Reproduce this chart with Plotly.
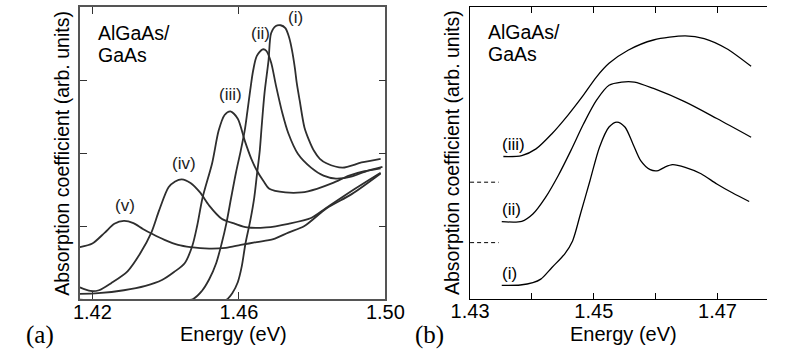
import plotly.graph_objects as go

W, H = 786, 357

# ---------------- Panel (a) data: energy (eV), absorption (arb. units) ----------------
a_i_E = [1.4166, 1.4390, 1.4545, 1.4566, 1.4582, 1.4597, 1.4608, 1.4618, 1.4631, 1.4642, 1.4649,
         1.4657, 1.4662, 1.4670, 1.4681, 1.4688, 1.4701, 1.4714, 1.4727, 1.4738, 1.4745, 1.4753,
         1.4758, 1.4766, 1.4779, 1.4792, 1.4805, 1.4821, 1.4839, 1.4883, 1.4935, 1.4987]
a_i_A = [-0.04, -0.04, -0.04, -0.01, 0.08, 0.23, 0.45, 0.76, 1.07, 1.39, 1.69,
         2.03, 2.35, 2.82, 3.27, 3.64, 3.74, 3.75, 3.71, 3.57, 3.41, 3.16,
         2.96, 2.72, 2.35, 2.17, 2.03, 1.92, 1.86, 1.80, 1.87, 1.92]

a_ii_E = [1.4166, 1.4260, 1.4390, 1.4475, 1.4499, 1.4519, 1.4538, 1.4553, 1.4566, 1.4579, 1.4592,
          1.4605, 1.4616, 1.4623, 1.4631, 1.4639, 1.4649, 1.4665, 1.4675, 1.4688, 1.4701, 1.4719,
          1.4735, 1.4761, 1.4797, 1.4831, 1.4865, 1.4909, 1.4953, 1.4992]
a_ii_A = [-0.01, -0.03, -0.04, 0.00, 0.11, 0.27, 0.49, 0.76, 1.04, 1.39, 1.73,
          2.03, 2.31, 2.56, 2.86, 3.13, 3.33, 3.42, 3.40, 3.24, 2.93, 2.54,
          2.27, 1.99, 1.80, 1.69, 1.65, 1.68, 1.76, 1.81]

a_iii_E = [1.4166, 1.4216, 1.4286, 1.4345, 1.4390, 1.4423, 1.4452, 1.4473, 1.4486, 1.4501, 1.4527,
           1.4545, 1.4561, 1.4577, 1.4597, 1.4616, 1.4634, 1.4649, 1.4668, 1.4683, 1.4727, 1.4771,
           1.4813, 1.4857, 1.4901, 1.4943, 1.4987]
a_iii_A = [0.07, 0.08, 0.12, 0.18, 0.26, 0.37, 0.49, 0.73, 1.00, 1.39, 1.86,
           2.31, 2.52, 2.57, 2.47, 2.17, 1.92, 1.76, 1.61, 1.51, 1.46, 1.46,
           1.51, 1.59, 1.69, 1.75, 1.79]

a_iv_E = [1.4166, 1.4195, 1.4218, 1.4252, 1.4296, 1.4330, 1.4361, 1.4382, 1.4408, 1.4426, 1.4444,
          1.4468, 1.4494, 1.4519, 1.4553, 1.4590, 1.4623, 1.4675, 1.4735, 1.4797, 1.4839, 1.4917,
          1.4987]
a_iv_A = [0.16, 0.11, 0.12, 0.22, 0.38, 0.62, 0.91, 1.21, 1.53, 1.61, 1.64,
          1.59, 1.46, 1.28, 1.10, 1.03, 0.98, 0.98, 1.03, 1.11, 1.25, 1.51,
          1.73]

a_v_E = [1.4166, 1.4200, 1.4234, 1.4260, 1.4286, 1.4312, 1.4338, 1.4364, 1.4397, 1.4434, 1.4468,
         1.4519, 1.4564, 1.4605, 1.4649, 1.4694, 1.4735, 1.4779, 1.4839, 1.4909, 1.4987]
a_v_A = [0.71, 0.76, 0.91, 1.03, 1.07, 1.04, 0.96, 0.89, 0.81, 0.74, 0.71,
         0.69, 0.70, 0.74, 0.78, 0.82, 0.91, 1.00, 1.24, 1.44, 1.72]

a_labels = ["(i)", "(ii)", "(iii)", "(iv)", "(v)"]
a_label_E = [1.4755, 1.4658, 1.4577, 1.4449, 1.4288]
a_label_A = [3.85, 3.64, 2.80, 1.86, 1.28]
a_xticks = [1.42, 1.46, 1.50]
a_xticktext = ["1.42", "1.46", "1.50"]
a_yticks = [1, 2, 3]

# ---------------- Panel (b) data ----------------
b_i_E = [1.43512, 1.43811, 1.44015, 1.44143, 1.44323, 1.44528, 1.44657, 1.44785, 1.44938, 1.45092,
         1.45246, 1.45374, 1.45503, 1.45631, 1.45758, 1.45912, 1.46042, 1.46143, 1.46272, 1.46477,
         1.46734, 1.46989, 1.47246, 1.47512]
b_i_A = [0.47, 0.48, 0.56, 0.68, 1.08, 1.54, 1.99, 2.92, 4.05, 5.20,
         5.89, 6.06, 5.89, 5.32, 4.74, 4.43, 4.40, 4.51, 4.60, 4.51,
         4.29, 3.94, 3.63, 3.34]

b_ii_E = [1.43512, 1.43835, 1.44015, 1.44220, 1.44426, 1.44631, 1.44835, 1.45042, 1.45246, 1.45451,
          1.45657, 1.45965, 1.46477, 1.46989, 1.47543]
b_ii_A = [2.65, 2.66, 2.91, 3.48, 4.23, 5.09, 6.00, 6.80, 7.32, 7.43,
          7.43, 7.21, 6.75, 6.18, 5.54]

b_iii_E = [1.43538, 1.43835, 1.44066, 1.44323, 1.44580, 1.44811, 1.45042, 1.45246, 1.45554, 1.45965,
           1.46477, 1.46785, 1.47143, 1.47543]
b_iii_A = [4.88, 4.91, 5.14, 5.66, 6.29, 6.92, 7.60, 8.07, 8.52, 8.87,
           9.01, 8.92, 8.58, 7.97]

b_labels = ["(i)", "(ii)", "(iii)"]
b_label_E = [1.43631, 1.43662, 1.43708]
b_label_A = [0.89, 3.06, 5.29]
b_dash_levels = [4.0, 1.93]
b_xticks = [1.43, 1.44, 1.45, 1.46, 1.47]
b_xticktext = ["1.43", "", "1.45", "", "1.47"]

SANS = "Liberation Sans, Arial, Helvetica, sans-serif"
SERIF = "Liberation Serif, Times New Roman, serif"

fig = go.Figure()

a_col = "#2e2e2e"
for E, A in [(a_i_E, a_i_A), (a_ii_E, a_ii_A), (a_iii_E, a_iii_A), (a_iv_E, a_iv_A), (a_v_E, a_v_A)]:
    fig.add_trace(go.Scatter(x=E, y=A, mode="lines", xaxis="x", yaxis="y",
                             line=dict(color=a_col, width=1.8, shape="spline", smoothing=0.8),
                             showlegend=False, hoverinfo="skip", cliponaxis=True))

for E, A in [(b_i_E, b_i_A), (b_ii_E, b_ii_A), (b_iii_E, b_iii_A)]:
    fig.add_trace(go.Scatter(x=E, y=A, mode="lines", xaxis="x2", yaxis="y2",
                             line=dict(color="black", width=1.3, shape="spline", smoothing=0.8),
                             showlegend=False, hoverinfo="skip"))

def px_x(p):
    return p / W

def px_y(p):
    return (H - p) / H

ann = []
for t, e, a in zip(a_labels, a_label_E, a_label_A):
    ann.append(dict(text=t, x=e, y=a, xref="x", yref="y", showarrow=False,
                    font=dict(family=SANS, size=17, color="#222")))
for t, e, a in zip(b_labels, b_label_E, b_label_A):
    ann.append(dict(text=t, x=e, y=a, xref="x2", yref="y2", showarrow=False,
                    font=dict(family=SANS, size=17, color="black")))

# material labels
for (x0, y1, y2) in [(81, 33, 55), (491, 32, 54)]:
    ann.append(dict(text="AlGaAs/", x=px_x(x0), y=px_y(y1), xref="paper", yref="paper",
                    xanchor="left", yanchor="middle", showarrow=False,
                    font=dict(family=SANS, size=19.5, color="black")))
    ann.append(dict(text="GaAs", x=px_x(x0), y=px_y(y2), xref="paper", yref="paper",
                    xanchor="left", yanchor="middle", showarrow=False,
                    font=dict(family=SANS, size=19.5, color="black")))

# axis titles
for xc in [225, 635]:
    ann.append(dict(text="Energy (eV)", x=px_x(xc), y=px_y(334), xref="paper", yref="paper",
                    xanchor="center", yanchor="middle", showarrow=False,
                    font=dict(family=SANS, size=20, color="black")))
for xc in [45, 455]:
    ann.append(dict(text="Absorption coefficient (arb. units)", x=px_x(xc), y=px_y(153),
                    xref="paper", yref="paper", textangle=-90,
                    xanchor="center", yanchor="middle", showarrow=False,
                    font=dict(family=SANS, size=19.5, color="black")))
# panel letters
for t, xc in [("(a)", 22), ("(b)", 431)]:
    ann.append(dict(text=t, x=px_x(xc), y=px_y(335), xref="paper", yref="paper",
                    xanchor="center", yanchor="middle", showarrow=False,
                    font=dict(family=SERIF, size=25, color="black")))

shapes = []
for lvl in b_dash_levels:
    shapes.append(dict(type="line", xref="x2", yref="y2", x0=1.43, x1=1.43462, y0=lvl, y1=lvl,
                       line=dict(color="black", width=1, dash="4px,3px")))

tickfont = dict(family=SANS, size=20, color="black")

fig.update_layout(
    width=W, height=H, margin=dict(l=0, r=0, t=0, b=0),
    paper_bgcolor="white", plot_bgcolor="white",
    annotations=ann, shapes=shapes,
    xaxis=dict(domain=[64 / W, 385 / W], range=[1.4166, 1.50], tickvals=a_xticks,
               ticktext=a_xticktext, ticks="inside", ticklen=7, tickwidth=1, tickcolor="#333",
               showline=True, linecolor="#555", linewidth=1.6, mirror="ticks",
               showgrid=False, zeroline=False, tickfont=tickfont, anchor="y",
               ticklabelstandoff=-6),
    yaxis=dict(domain=[(H - 299) / H, (H - 7) / H], range=[0, 4], tickvals=a_yticks,
               showticklabels=False, ticks="inside", ticklen=7, tickwidth=1, tickcolor="#333",
               showline=True, linecolor="#555", linewidth=1.6, mirror="ticks",
               showgrid=False, zeroline=False, anchor="x"),
    xaxis2=dict(domain=[474 / W, 1.0], range=[1.43, 1.478], tickvals=b_xticks,
                ticktext=b_xticktext, ticks="inside", ticklen=6, tickwidth=1, tickcolor="black",
                showline=True, linecolor="black", linewidth=1, mirror="ticks",
                showgrid=False, zeroline=False, tickfont=tickfont, anchor="y2",
                ticklabelstandoff=-6),
    yaxis2=dict(domain=[(H - 299) / H, (H - 7) / H], range=[0, 10], showticklabels=False,
                ticks="", showline=True, linecolor="black", linewidth=1,
                showgrid=False, zeroline=False, anchor="x2"),
)

fig.write_html("out.html")
